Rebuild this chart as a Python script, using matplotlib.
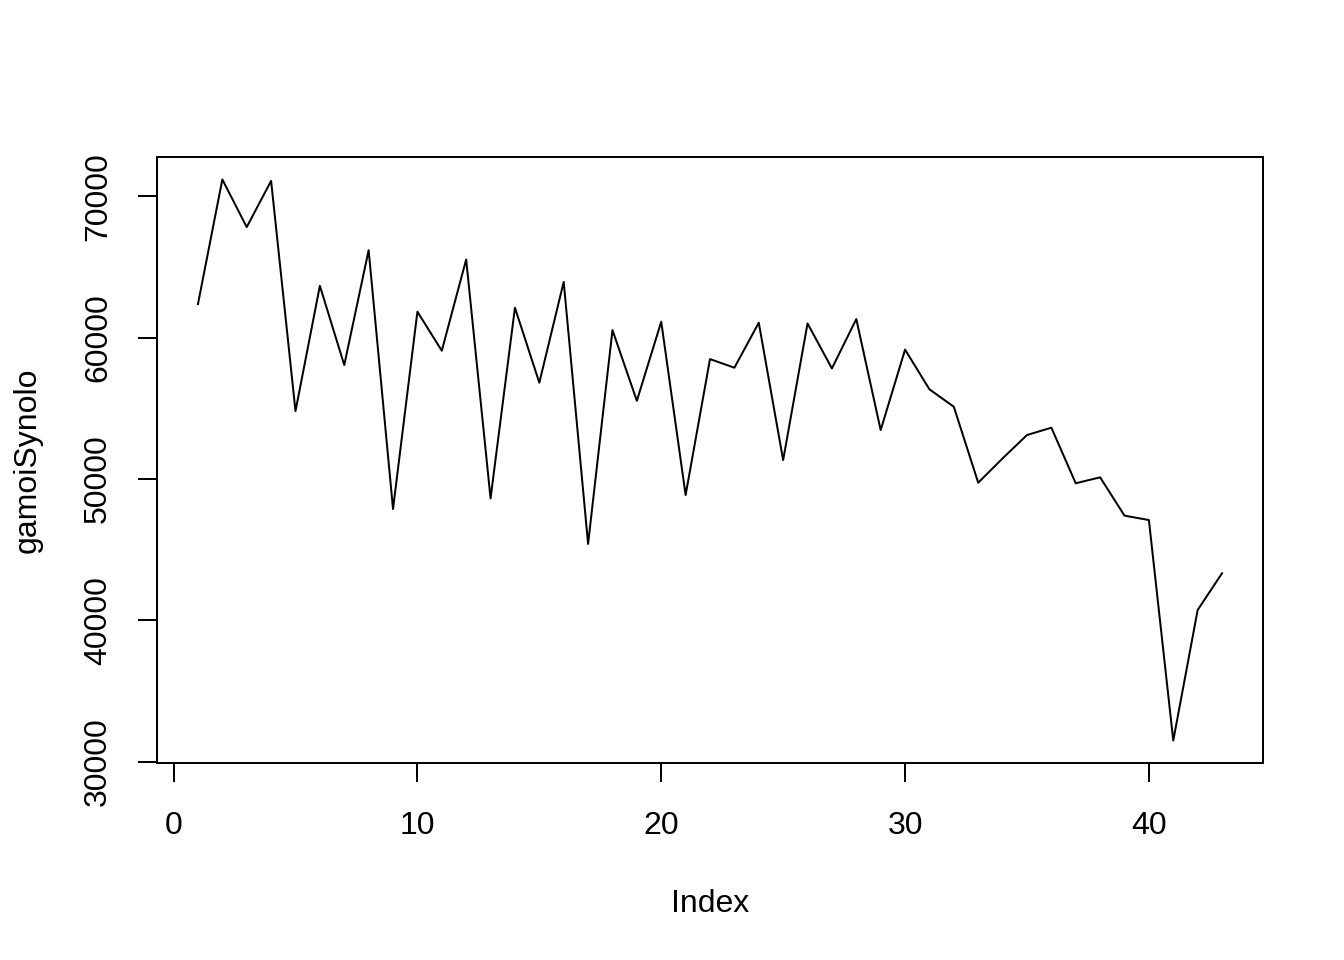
#!/usr/bin/env python3
"""gamoiSynolo index plot, R base-graphics look."""
import matplotlib
matplotlib.use("Agg")
import matplotlib.pyplot as plt
import numpy as np

gamoi_synolo = [62370, 71180, 67810, 71080, 54800, 63660, 58060, 66180, 47880, 61830,
                59070, 65520, 48630, 62110, 56810, 63940, 45410, 60530, 55530, 61120,
                48870, 58480, 57870, 61050, 51340, 61000, 57820, 61310, 53460, 59150,
                56340, 55110, 49740, 51460, 53110, 53630, 49700, 50120, 47410, 47100,
                31510, 40740, 43340]
x_ticks = [0, 10, 20, 30, 40]
y_ticks = [30000, 40000, 50000, 60000, 70000]

plt.rcParams['font.family'] = ['Liberation Sans', 'DejaVu Sans']
plt.rcParams['font.size'] = 12

idx = np.arange(1, len(gamoi_synolo) + 1)
y = np.array(gamoi_synolo)

fig = plt.figure(figsize=(7, 5), dpi=192)
ax = fig.add_axes([157/1344, 1 - 763/960, (1263 - 157)/1344, (763 - 157)/960])
ax.plot(idx, y, color='black', lw=0.75)

# R pads the range by 4% on each side
xr = idx.max() - idx.min()
yr = y.max() - y.min()
ax.set_xlim(idx.min() - 0.04*xr, idx.max() + 0.04*xr)
ax.set_ylim(y.min() - 0.04*yr, y.max() + 0.04*yr)

ax.set_xticks(x_ticks)
ax.set_yticks(y_ticks)
ax.set_yticklabels([str(v) for v in y_ticks], rotation=90, va='center')
ax.tick_params(direction='out', length=7, width=0.75, labelsize=12)
ax.tick_params(axis='x', pad=11)
ax.tick_params(axis='y', pad=9.5)
for s in ax.spines.values():
    s.set_linewidth(0.75)

ax.set_xlabel('Index', fontsize=12, labelpad=18)
ax.set_ylabel('gamoiSynolo', fontsize=12, labelpad=15)

fig.savefig('out.png', dpi=192, facecolor='white')
